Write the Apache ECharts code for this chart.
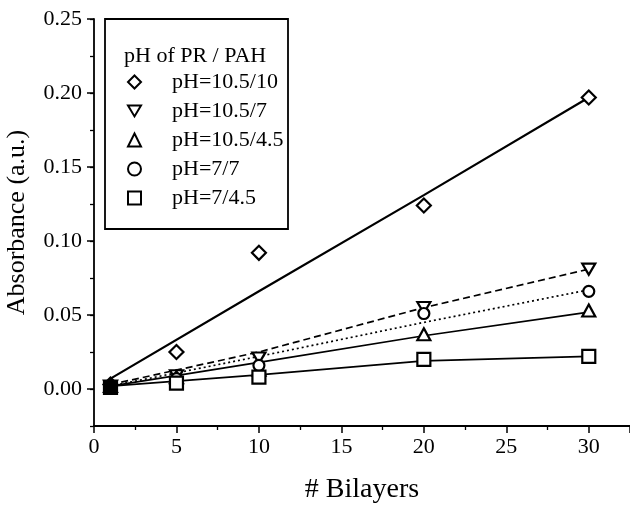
<!DOCTYPE html>
<html>
<head>
<meta charset="utf-8">
<script src="https://cdn.jsdelivr.net/npm/echarts@6/dist/echarts.min.js"></script>
<style>
  html, body { margin: 0; padding: 0; background: #fff; }
  #chart { width: 630px; height: 510px; }
</style>
</head>
<body>
<div id="chart"></div>
<script>
// measured points
var bilayers = [1, 5, 10, 20, 30];
var seriesNames = ['pH=10.5/10', 'pH=10.5/7', 'pH=10.5/4.5', 'pH=7/7', 'pH=7/4.5'];
var absA = [0.003, 0.025, 0.092, 0.124, 0.197];   // 10.5/10
var absB = [0.002, 0.009, 0.021, 0.055, 0.081];   // 10.5/7
var absC = [0.002, 0.008, 0.013, 0.037, 0.053];   // 10.5/4.5
var absD = [0.001, 0.007, 0.016, 0.051, 0.066];   // 7/7
var absE = [0.001, 0.004, 0.008, 0.020, 0.022];   // 7/4.5

// fitted curves
var fitX = [1, 10, 20, 30];
var fitA = [0.007, 0.066, 0.131, 0.197];
var fitB = [0.003, 0.025, 0.055, 0.081];
var fitC = [0.002, 0.018, 0.036, 0.052];
var fitD = [0.002, 0.022, 0.045, 0.067];
var fitE = [0.002, 0.0095, 0.019, 0.022];

var font = "'Liberation Serif', 'Times New Roman', serif";
var downTri = 'path://M0,0L12,0L6,10Z';

var chart = echarts.init(document.getElementById('chart'));

function pts(xs, ys) {
    return xs.map(function(x, i) { return [x, ys[i]]; });
}

function markers(name, ys, symbol, size) {
    return {
        name: name,
        type: 'scatter',
        symbol: symbol,
        symbolSize: size,
        z: 5,
        itemStyle: { color: '#fff', borderColor: '#000', borderWidth: 2.2, opacity: 1 },
        data: pts(bilayers, ys).map(function(p, i) {
            // the first points pile up into one black blob
            return i === 0 ? { value: p, itemStyle: { color: '#000' } } : p;
        })
    };
}

function fitLine(name, ys, type, width) {
    return {
        name: name,
        type: 'line',
        showSymbol: false,
        silent: true,
        z: 3,
        lineStyle: { color: '#000', width: width, type: type },
        data: pts(fitX, ys)
    };
}

var option = {
    backgroundColor: '#fff',
    animation: false,
    textStyle: { fontFamily: font, color: '#000' },
    grid: [
        { left: 94, top: 19, right: 0, bottom: 84, outerBoundsMode: 'none' },
        // same plot, used only for the labelled 0.05 ticks (0 sits at y=389)
        { left: 94, top: 19, right: 0, height: 370, outerBoundsMode: 'none' }
    ],
    title: {
        text: 'pH of PR / PAH',
        left: 124,
        top: 45,
        padding: 0,
        textStyle: { fontFamily: font, fontSize: 22, fontWeight: 'normal', color: '#000' }
    },
    graphic: [{
        type: 'rect',
        shape: { x: 105, y: 19, width: 183, height: 210 },
        style: { fill: 'none', stroke: '#000', lineWidth: 1.8 },
        z: 10
    }],
    legend: {
        orient: 'vertical',
        left: 127,
        top: 71,
        padding: 0,
        itemWidth: 13,
        itemHeight: 13,
        itemGap: 7,
        data: seriesNames,
        textStyle: { fontFamily: font, fontSize: 22, lineHeight: 22, color: '#000', padding: [0, 0, 0, 26] }
    },
    xAxis: [{
        type: 'value',
        gridIndex: 0,
        min: 0,
        max: 32.5,
        interval: 5,
        name: '# Bilayers',
        nameLocation: 'middle',
        nameGap: 50,
        nameTextStyle: { fontFamily: font, fontSize: 28, color: '#000' },
        axisLine: { onZero: false, lineStyle: { color: '#000', width: 1.8 } },
        axisTick: { length: 7, lineStyle: { color: '#000', width: 1.5 } },
        minorTick: { show: true, splitNumber: 2, length: 4, lineStyle: { color: '#000', width: 1.3 } },
        splitLine: { show: false },
        axisLabel: {
            fontFamily: font, fontSize: 22, color: '#000', margin: 10,
            formatter: function(v) { return v % 5 === 0 ? String(v) : ''; }
        }
    }, {
        type: 'value',
        gridIndex: 1,
        min: 0,
        max: 32.5,
        show: false
    }],
    yAxis: [{
        type: 'value',
        gridIndex: 0,
        min: -0.025,
        max: 0.25,
        interval: 0.025,
        name: 'Absorbance (a.u.)',
        nameLocation: 'middle',
        nameGap: 64,
        nameTextStyle: { fontFamily: font, fontSize: 26, color: '#000' },
        axisLine: { show: true, lineStyle: { color: '#000', width: 1.8 } },
        axisTick: { show: true, length: 4, lineStyle: { color: '#000', width: 1.3 } },
        splitLine: { show: false },
        axisLabel: { show: false }
    }, {
        type: 'value',
        gridIndex: 1,
        min: 0,
        max: 0.25,
        interval: 0.05,
        axisLine: { show: false },
        axisTick: { show: true, length: 7, lineStyle: { color: '#000', width: 1.5 } },
        splitLine: { show: false },
        axisLabel: {
            fontFamily: font, fontSize: 22, color: '#000', margin: 12,
            formatter: function(v) { return v.toFixed(2); }
        }
    }],
    series: [
        fitLine('fitA', fitA, 'solid', 2.2),
        fitLine('fitB', fitB, [7, 4], 1.7),
        fitLine('fitC', fitC, 'solid', 1.7),
        fitLine('fitD', fitD, [2, 3], 1.7),
        fitLine('fitE', fitE, 'solid', 1.7),
        markers(seriesNames[0], absA, 'diamond', [14, 14]),
        markers(seriesNames[1], absB, downTri, [13, 11]),
        markers(seriesNames[2], absC, 'triangle', [13, 12]),
        markers(seriesNames[3], absD, 'circle', 11),
        markers(seriesNames[4], absE, 'rect', 13)
    ]
};
chart.setOption(option);
</script>
</body>
</html>
